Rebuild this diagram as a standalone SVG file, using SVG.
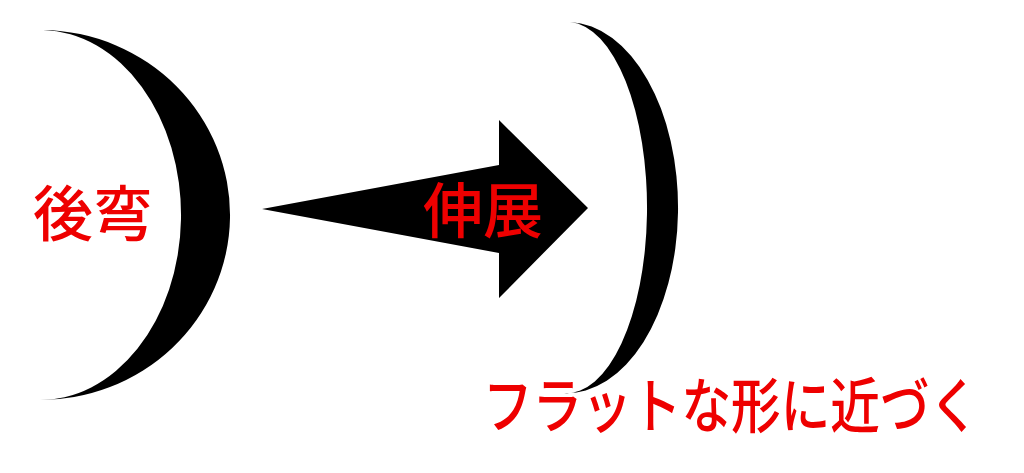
<svg xmlns="http://www.w3.org/2000/svg" width="1024" height="473" viewBox="0 0 1024 473">
<style>
.shape{fill:#000;stroke:none}
.lbl{fill:#ee0000;font-family:"Noto Sans CJK JP","Noto Sans CJK SC",sans-serif;font-size:60px;font-weight:500}
</style>
<rect width="1024" height="473" fill="#fff"/>
<g id="crescent-left">
<path class="shape" d="M43,30 A190,185 0 0 1 37,400 A141,185 0 0 0 43,30 Z"/>
</g>
<g id="crescent-right">
<path class="shape" d="M570,22 A111,185.5 0 0 1 564,393 A80,185.5 0 0 0 570,22 Z"/>
</g>
<g id="connectors">
<path class="shape" d="M262,209 L499,165 L499,120 L588,208 L499,298 L499,253 Z"/>
</g>
<g id="label-left">
<text class="lbl" x="33" y="236">後弯</text>
</g>
<g id="label-arrow">
<text class="lbl" x="423" y="233">伸展</text>
</g>
<g id="label-bottom">
<text class="lbl" transform="translate(483,428) scale(0.827,1)" x="0" y="0">フラットな形に近づく</text>
</g>
</svg>
